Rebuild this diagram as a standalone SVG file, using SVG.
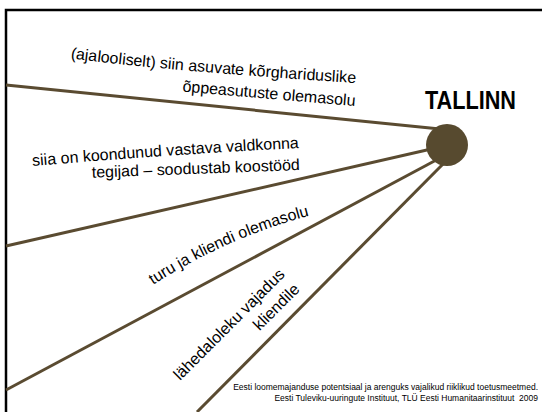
<svg xmlns="http://www.w3.org/2000/svg" xmlns:xlink="http://www.w3.org/1999/xlink" width="542" height="412" viewBox="0 0 542 412">
  <style>
    .lbl { font-family: "Liberation Sans", Arial, sans-serif; font-size: 16px; fill: #000; }
    .conn { stroke: #5a4b31; stroke-width: 3; fill: none; stroke-linecap: butt; }
    .foot { font-family: "Liberation Sans", Arial, sans-serif; font-size: 9.5px; fill: #000; text-anchor: end; }
  </style>
  <defs>
    <path id="p1" d="M55,56.4 L75,59 Q163,70.5 356,83"/>
    <path id="p2" d="M15,167.5 L33,166 Q167,154.6 299,148"/>
    <path id="p3" d="M153,285 Q229,236 316,214 L330,210"/>
  </defs>
  <rect width="542" height="412" fill="#fff"/>
  <path d="M6,412 V10 H542" fill="none" stroke="#000" stroke-width="2.5"/>

  <g id="connectors">
    <line class="conn" x1="6" y1="85" x2="440" y2="129"/>
    <line class="conn" x1="6" y1="246" x2="440" y2="147"/>
    <line class="conn" x1="6" y1="390" x2="440" y2="158"/>
    <line class="conn" x1="197" y1="412" x2="445" y2="162"/>
  </g>

  <g id="tallinn">
    <circle cx="447" cy="145" r="21" fill="#574a2f"/>
    <text x="425" y="109" font-family="'Liberation Sans', Arial, sans-serif" font-weight="bold" font-size="26" textLength="91" lengthAdjust="spacingAndGlyphs">TALLINN</text>
  </g>

  <g id="label-korgharidus">
    <text class="lbl" text-anchor="end"><textPath xlink:href="#p1" href="#p1" startOffset="100%">(ajalooliselt) siin asuvate kõrghariduslike</textPath></text>
    <text class="lbl" text-anchor="end" transform="translate(355,106) rotate(4.8)">õppeasutuste olemasolu</text>
  </g>

  <g id="label-koondunud">
    <text class="lbl" text-anchor="end"><textPath xlink:href="#p2" href="#p2" startOffset="100%">siia on koondunud vastava valdkonna</textPath></text>
    <text class="lbl" text-anchor="end" transform="translate(300,170) rotate(-2.1)">tegijad – soodustab koostööd</text>
  </g>

  <g id="label-turg">
    <text class="lbl"><textPath xlink:href="#p3" href="#p3">turu ja kliendi olemasolu</textPath></text>
  </g>

  <g id="label-lahedus">
    <text class="lbl" text-anchor="end" transform="translate(285.6,275.4) rotate(-45)"><tspan x="0" y="0">lähedaloleku vajadus</tspan><tspan x="0" y="21">kliendile</tspan></text>
  </g>

  <g id="footer">
    <text class="foot" transform="translate(538,390) scale(0.895,1)">Eesti loomemajanduse potentsiaal ja arenguks vajalikud riiklikud toetusmeetmed.</text>
    <text class="foot" transform="translate(538,401) scale(0.895,1)">Eesti Tuleviku-uuringute Instituut, TLÜ Eesti Humanitaarinstituut&#160; 2009</text>
  </g>
</svg>
